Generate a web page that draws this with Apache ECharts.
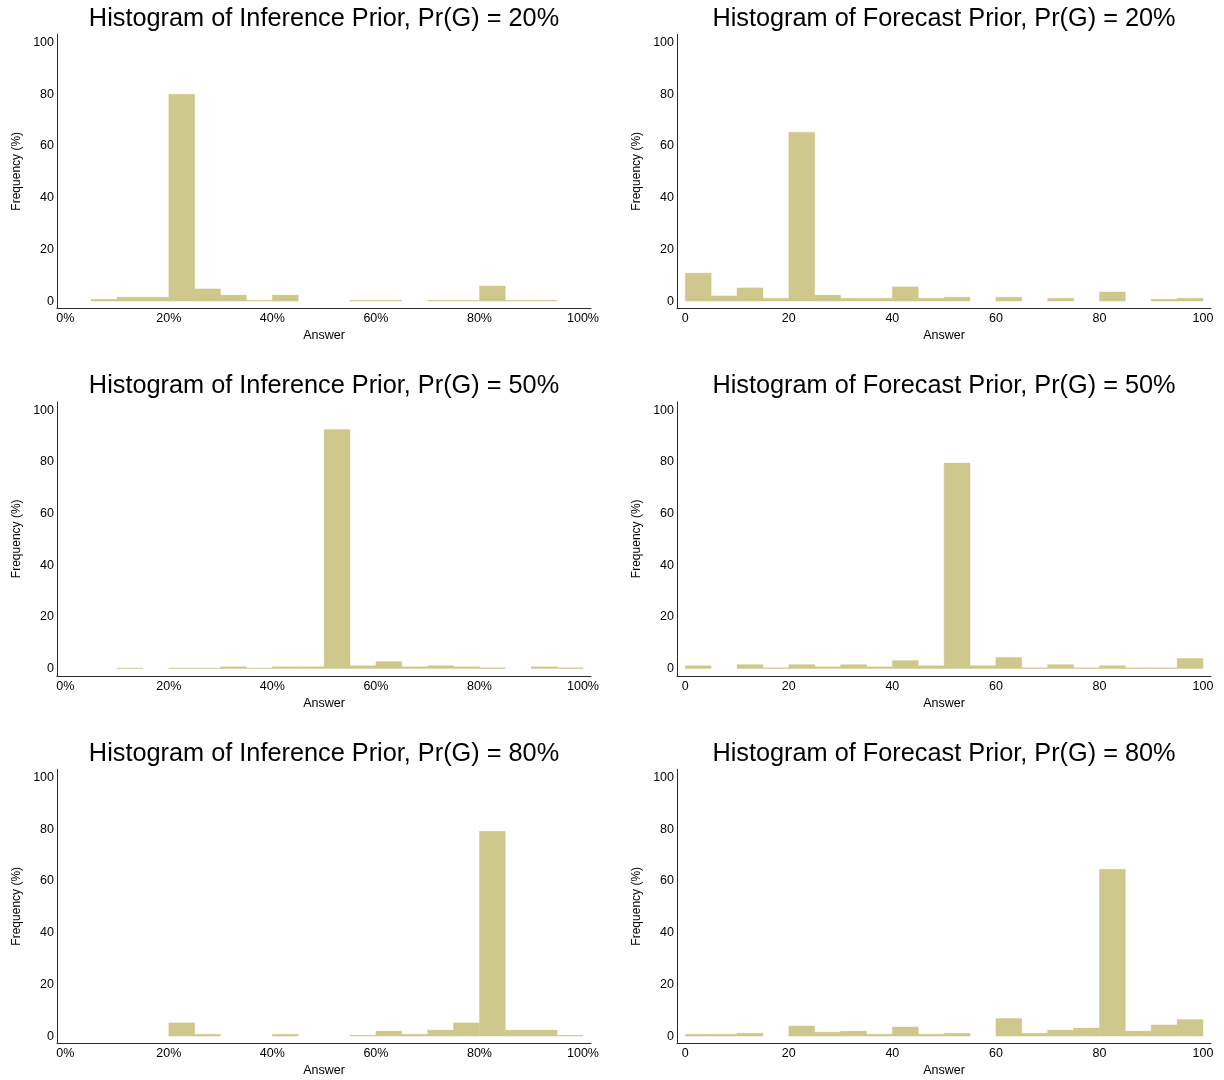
<!DOCTYPE html>
<html>
<head>
<meta charset="utf-8">
<script src="https://cdn.jsdelivr.net/npm/echarts@6/dist/echarts.min.js"></script>
<style>
html,body{margin:0;padding:0;background:#fff;}
#chart{width:1224px;height:1080px;}
</style>
</head>
<body>
<div id="chart"></div>
<script>
// ---- data ----
const binStarts = [0,5,10,15,20,25,30,35,40,45,50,55,60,65,70,75,80,85,90,95];
const binWidth = 5;
const inference20 = [0,0.7,1.5,1.5,80,4.7,2.3,0.3,2.3,0,0,0.3,0.3,0,0.3,0.3,5.8,0.3,0.3,0];
const forecast20  = [10.8,2.0,5.1,1.1,65.3,2.3,1.1,1.1,5.5,1.1,1.5,0,1.5,0,1.1,0,3.5,0,0.7,1.1];
const inference50 = [0,0,0.2,0,0.2,0.2,0.7,0.2,0.7,0.7,92.5,1.1,2.7,0.7,1.1,0.7,0.3,0,0.7,0.3];
const forecast50  = [1.1,0,1.5,0.3,1.5,0.7,1.5,0.7,3.1,1.1,79.5,1.1,4.3,0.3,1.5,0.3,1.1,0.3,0.3,3.9];
const inference80 = [0,0,0,0,5.1,0.7,0,0,0.7,0,0,0.3,1.9,0.7,2.3,5.1,79.2,2.3,2.3,0.3];
const forecast80  = [0.7,0.7,1.1,0,3.9,1.5,1.9,0.7,3.5,0.7,1.1,0,6.8,1.1,2.3,3.1,64.5,1.9,4.3,6.4];
const yTicks = [0,20,40,60,80,100];
const xTicks = [0,20,40,60,80,100];
const titles = [
  'Histogram of Inference Prior, Pr(G) = 20%',
  'Histogram of Forecast Prior, Pr(G) = 20%',
  'Histogram of Inference Prior, Pr(G) = 50%',
  'Histogram of Forecast Prior, Pr(G) = 50%',
  'Histogram of Inference Prior, Pr(G) = 80%',
  'Histogram of Forecast Prior, Pr(G) = 80%'
];
const panelSeries = [inference20, forecast20, inference50, forecast50, inference80, forecast80];
const percentX = [true, false, true, false, true, false];

// ---- layout ----
const FONT = '"Liberation Sans", Arial, Helvetica, sans-serif';
const barColor = '#cec88c';
const axisColor = '#2a2a2a';
const colLeft = [57, 677];
const gridW = 534;
const rowTop = [34.3, 401.8, 769.3];
const gridH = 274;

const grids = [], xAxes = [], yAxes = [], series = [], titleOpts = [];
for (let i = 0; i < 6; i++) {
  const r = Math.floor(i / 2), c = i % 2;
  grids.push({left: colLeft[c], top: rowTop[r], width: gridW, height: gridH, containLabel: false});
  titleOpts.push({
    text: titles[i],
    left: colLeft[c] + gridW / 2,
    textAlign: 'center',
    top: rowTop[r] - 28,
    padding: 0,
    textStyle: {fontFamily: FONT, fontSize: 25.3, fontWeight: 'normal', color: '#000'}
  });
  const pct = percentX[i];
  xAxes.push({
    gridIndex: i, type: 'value', min: -1.6, max: 101.55,
    axisLine: {show: true, onZero: false, lineStyle: {color: axisColor, width: 1}},
    axisTick: {show: false},
    splitLine: {show: false},
    axisLabel: {
      customValues: xTicks, margin: 4, color: '#000', fontFamily: FONT, fontSize: 12.5,
      formatter: v => pct ? v + '%' : String(v)
    },
    name: 'Answer', nameLocation: 'middle', nameGap: 21,
    nameTextStyle: {color: '#000', fontFamily: FONT, fontSize: 12.5}
  });
  yAxes.push({
    gridIndex: i, type: 'value', min: -2.8, max: 103.2,
    axisLine: {show: true, onZero: false, lineStyle: {color: axisColor, width: 1}},
    axisTick: {show: false},
    splitLine: {show: false},
    axisLabel: {customValues: yTicks, margin: 3, color: '#000', fontFamily: FONT, fontSize: 12.5},
    name: 'Frequency (%)', nameLocation: 'middle', nameGap: 34, nameRotate: 90,
    nameTextStyle: {color: '#000', fontFamily: FONT, fontSize: 12}
  });
  const data = [];
  binStarts.forEach((b, k) => { if (panelSeries[i][k] > 0) data.push([b, panelSeries[i][k]]); });
  series.push({
    type: 'custom', xAxisIndex: i, yAxisIndex: i, data: data, silent: true,
    renderItem: function (params, api) {
      const x0 = api.value(0), h = api.value(1);
      const p0 = api.coord([x0, h]);
      const p1 = api.coord([x0 + binWidth, 0]);
      return {
        type: 'rect',
        shape: {x: p0[0], y: p0[1], width: p1[0] - p0[0], height: p1[1] - p0[1]},
        style: {fill: barColor, stroke: barColor, lineWidth: 0.4}
      };
    }
  });
}

const chart = echarts.init(document.getElementById('chart'), null, {renderer: 'canvas'});
chart.setOption({
  backgroundColor: '#fff',
  animation: false,
  title: titleOpts,
  grid: grids,
  xAxis: xAxes,
  yAxis: yAxes,
  series: series
});
</script>
</body>
</html>
